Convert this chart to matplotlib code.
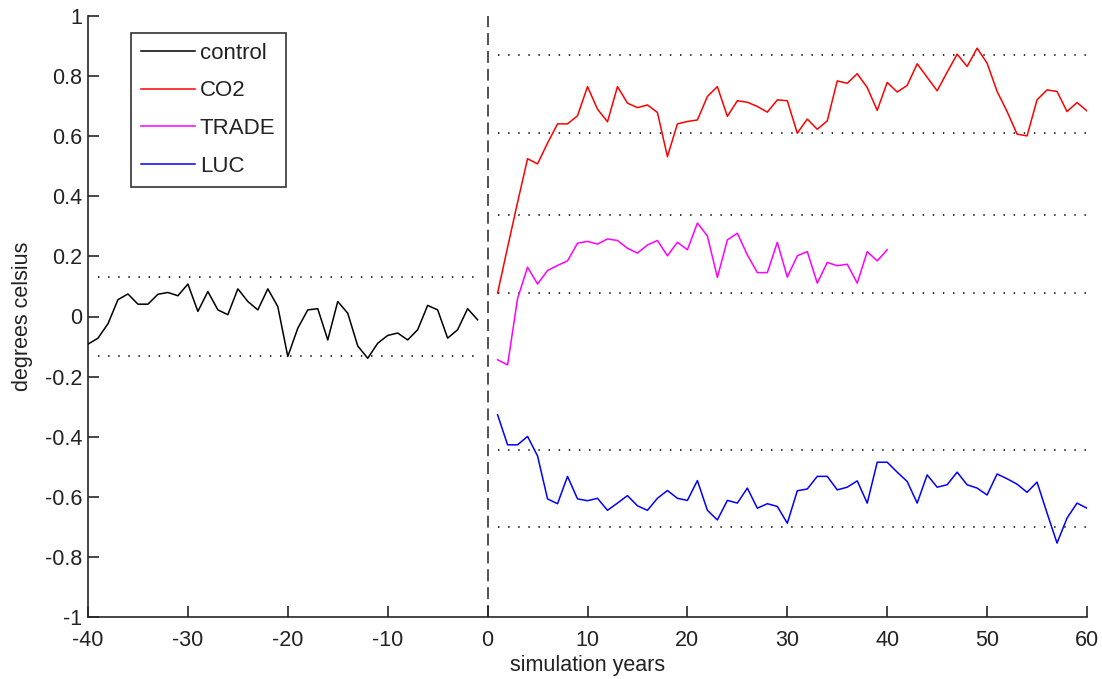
import matplotlib
matplotlib.use("Agg")
import matplotlib.pyplot as plt
import numpy as np

plt.rcParams['font.family'] = ['Liberation Sans', 'DejaVu Sans']
plt.rcParams['axes.unicode_minus'] = False

# annual mean temperature anomalies (degrees celsius)
control_years = list(range(-40, 0))
control = [-0.092, -0.072, -0.024, 0.056, 0.075, 0.041, 0.041, 0.074, 0.080, 0.069,
           0.108, 0.017, 0.083, 0.022, 0.006, 0.092, 0.050, 0.022, 0.092, 0.033,
           -0.133, -0.039, 0.022, 0.026, -0.078, 0.050, 0.011, -0.098, -0.139, -0.089,
           -0.063, -0.055, -0.078, -0.044, 0.037, 0.022, -0.072, -0.044, 0.026, -0.011]

co2_years = list(range(1, 61))
co2 = [0.078, 0.23, 0.38, 0.525, 0.508, 0.577, 0.641, 0.641, 0.668, 0.765,
       0.690, 0.648, 0.765, 0.710, 0.695, 0.704, 0.679, 0.532, 0.641, 0.649,
       0.654, 0.732, 0.765, 0.666, 0.718, 0.713, 0.699, 0.680, 0.721, 0.718,
       0.610, 0.657, 0.623, 0.651, 0.784, 0.776, 0.808, 0.762, 0.686, 0.779,
       0.747, 0.769, 0.841, 0.796, 0.751, 0.813, 0.873, 0.832, 0.893, 0.843,
       0.749, 0.682, 0.607, 0.601, 0.721, 0.754, 0.749, 0.682, 0.712, 0.684]

trade_years = list(range(1, 41))
trade = [-0.144, -0.161, 0.060, 0.164, 0.108, 0.153, 0.170, 0.185, 0.244, 0.250,
         0.241, 0.258, 0.253, 0.227, 0.211, 0.238, 0.253, 0.202, 0.247, 0.222,
         0.311, 0.268, 0.130, 0.255, 0.277, 0.205, 0.146, 0.146, 0.247, 0.131,
         0.202, 0.216, 0.111, 0.180, 0.169, 0.174, 0.111, 0.216, 0.185, 0.222]

luc_years = list(range(1, 61))
luc = [-0.327, -0.427, -0.427, -0.399, -0.464, -0.607, -0.623, -0.532, -0.607, -0.613,
       -0.605, -0.645, -0.621, -0.596, -0.630, -0.645, -0.605, -0.579, -0.605, -0.612,
       -0.546, -0.645, -0.677, -0.612, -0.621, -0.571, -0.638, -0.623, -0.632, -0.688,
       -0.580, -0.574, -0.532, -0.532, -0.577, -0.568, -0.547, -0.621, -0.485, -0.485,
       -0.518, -0.549, -0.621, -0.527, -0.568, -0.560, -0.518, -0.560, -0.571, -0.594,
       -0.524, -0.540, -0.558, -0.585, -0.551, -0.654, -0.754, -0.671, -0.621, -0.638]

# variability bands (lower, upper) and the year span each one covers
bands = [(-0.130, 0.132), (0.609, 0.870), (0.078, 0.338), (-0.702, -0.443)]
band_spans = [(-39, -1), (1, 60), (1, 60), (1, 60)]

series = [
    ("control", control_years, control, "k"),
    ("CO2", co2_years, co2, "#ff0000"),
    ("TRADE", trade_years, trade, "#ff00ff"),
    ("LUC", luc_years, luc, "#0000ff"),
]

fig = plt.figure(figsize=(11.02, 6.79), dpi=100)
ax = fig.add_axes([88 / 1102, 1 - 617 / 679, 999 / 1102, 601 / 679])

for (lo, hi), (x0, x1) in zip(bands, band_spans):
    for yv in (lo, hi):
        ax.plot([x0, x1], [yv, yv], color="#222222", lw=1.3,
                dashes=(0.8, 4.8), zorder=1)

ax.axvline(0, color="#222222", lw=1.1, dashes=(7.8, 3.9), zorder=1)

for name, xs, ys, col in series:
    ax.plot(xs, ys, color=col, lw=1.1, label=name, zorder=3)

ax.set_xlim(-40, 60)
ax.set_ylim(-1, 1)
ax.set_xticks(np.arange(-40, 61, 10))
ax.set_yticks(np.round(np.arange(-1, 1.01, 0.2), 1))
ax.set_yticklabels(["-1", "-0.8", "-0.6", "-0.4", "-0.2", "0",
                    "0.2", "0.4", "0.6", "0.8", "1"])

for side in ("top", "right"):
    ax.spines[side].set_visible(False)
for side in ("left", "bottom"):
    ax.spines[side].set_linewidth(1.2)
    ax.spines[side].set_color("#262626")

ax.tick_params(direction="in", length=7.7, width=1.2, color="#262626",
               labelsize=15.5, labelcolor="#222222")
ax.tick_params(axis="x", pad=9)
ax.tick_params(axis="y", pad=4)

ax.set_xlabel("simulation years", fontsize=15.5, color="#222222", labelpad=3)
ax.set_ylabel("degrees celsius", fontsize=15.5, color="#222222", labelpad=9)

leg = ax.legend(loc="upper left", bbox_to_anchor=(0.0427, 0.972),
                borderaxespad=0, fontsize=16, handlelength=2.45,
                handletextpad=0.22, labelspacing=0.75, borderpad=0.45,
                fancybox=False, framealpha=1)
leg.get_frame().set_edgecolor("#333333")
leg.get_frame().set_linewidth(1.2)
for t in leg.get_texts():
    t.set_color("#222222")

fig.savefig("out.png", dpi=100)
